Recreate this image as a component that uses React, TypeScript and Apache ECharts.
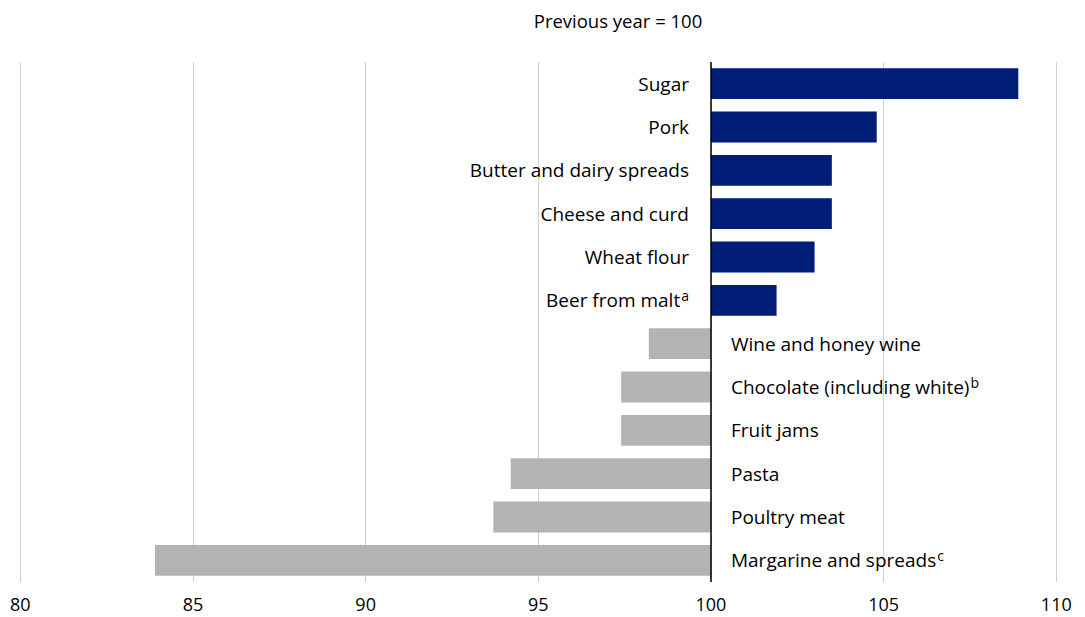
import React, { useEffect, useRef } from "react";
import * as echarts from "echarts";

const categories = [
  "Sugar",
  "Pork",
  "Butter and dairy spreads",
  "Cheese and curd",
  "Wheat flour",
  "Beer from malt",
  "Wine and honey wine",
  "Chocolate (including white)",
  "Fruit jams",
  "Pasta",
  "Poultry meat",
  "Margarine and spreads",
];
const superscripts = ["", "", "", "", "", "a", "", "b", "", "", "", "c"];
const values = [108.9, 104.8, 103.5, 103.5, 103.0, 101.9, 98.2, 97.4, 97.4, 94.2, 93.7, 83.9];
const baseValue = 100;
const xTicks = [80, 85, 90, 95, 100, 105, 110];
const title = "Previous year = 100";

const FONT = "Open Sans";
const BLUE = "#001e78";
const GREY = "#b3b3b3";

export default function App() {
  const ref = useRef<HTMLDivElement>(null);
  useEffect(() => {
    if (!ref.current) return;
    const chart = echarts.init(ref.current, undefined, { renderer: "svg" });
    const baseData = values.map((v) => Math.min(v, baseValue));
    const deltaData = values.map((v, i) => {
      const up = v >= baseValue;
      const label = superscripts[i]
        ? `{n|${categories[i]}}{s|${superscripts[i]}}`
        : `{n|${categories[i]}}`;
      return {
        value: Math.round(Math.abs(v - baseValue) * 100) / 100,
        itemStyle: { color: up ? BLUE : GREY },
        label: {
          show: true,
          position: up ? "left" : "right",
          distance: up ? 22 : 20,
          formatter: label,
        },
      };
    });
    chart.setOption({
      animation: false,
      title: {
        text: title,
        left: 613,
        top: 6,
        textAlign: "center",
        textStyle: { fontFamily: FONT, fontSize: 18.5, fontWeight: "normal", color: "#000" },
      },
      grid: { left: 20.3, right: 28.7, top: 62, bottom: 35, containLabel: false },
      xAxis: {
        type: "value",
        min: xTicks[0],
        max: xTicks[xTicks.length - 1],
        interval: 5,
        axisLine: { show: false },
        axisTick: { show: false },
        axisLabel: { color: "#000", fontFamily: FONT, fontSize: 18, margin: 13 },
        splitLine: { show: true, lineStyle: { color: "#d0d0d0", width: 1 } },
      },
      yAxis: {
        type: "category",
        inverse: true,
        data: categories,
        axisLine: { show: false },
        axisTick: { show: false },
        axisLabel: { show: false },
        splitLine: { show: false },
      },
      series: [
        {
          type: "bar",
          stack: "s",
          data: baseData,
          barWidth: "71%",
          itemStyle: { color: "transparent" },
          silent: true,
          emphasis: { disabled: true },
        },
        {
          type: "bar",
          stack: "s",
          data: deltaData,
          barWidth: "71%",
          silent: true,
          emphasis: { disabled: true },
          label: {
            color: "#000",
            rich: {
              n: { fontFamily: FONT, fontSize: 19, color: "#000", lineHeight: 24 },
              s: { fontFamily: FONT, fontSize: 14, color: "#000", lineHeight: 24, verticalAlign: "top", padding: [0, 0, 4, 1] },
            },
          },
          markLine: {
            silent: true,
            symbol: "none",
            label: { show: false },
            lineStyle: { color: "#000", width: 1.5, type: "solid" },
            data: [{ xAxis: baseValue }],
          },
        },
      ],
    });
    return () => chart.dispose();
  }, []);
  return (
    <div
      ref={ref}
      style={{ position: "absolute", left: 0, top: 0, width: 1085, height: 617 }}
    />
  );
}
